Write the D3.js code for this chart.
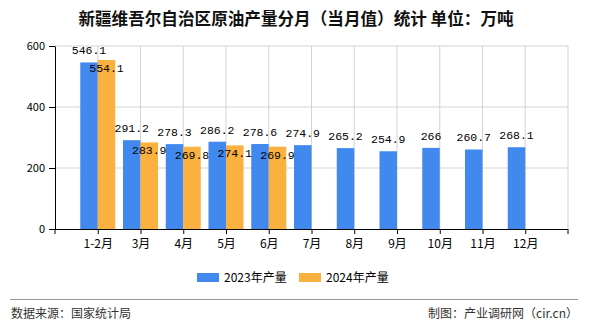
<!DOCTYPE html>
<html><head><meta charset="utf-8">
<script src="https://cdn.jsdelivr.net/npm/d3@7"></script>
<style>body{margin:0;background:#fff}svg{display:block}</style>
</head><body>
<svg id="c" width="590" height="330"></svg>
<script>
const categories = ["1-2月","3月","4月","5月","6月","7月","8月","9月","10月","11月","12月"];
const values2023 = [546.1,291.2,278.3,286.2,278.6,274.9,265.2,254.9,266,260.7,268.1];
const values2024 = [554.1,283.9,269.8,274.1,269.9];
const seriesNames = ["2023年产量","2024年产量"];
const yTicks = [0,200,400,600];
const colors = ["#4189EE","#FBB140"];

const svg = d3.select("#c");
const L = 55, R = 568, T = 46, B = 229;
const step = (R - L) / 12;
const x = d3.scalePoint().domain(categories).range([L + step, R - step]);
const y = d3.scaleLinear().domain([0, 600]).range([B, T]);
const inner = d3.scaleBand().domain(seriesNames).range([-17.5, 17.5]);

const cjk = "'Noto Sans CJK SC','Noto Sans',sans-serif";
const mono = "'Liberation Mono','DejaVu Sans Mono',monospace";

// title
svg.append("text").attr("x", 296).attr("y", 25).attr("text-anchor","middle")
  .attr("font-family", cjk).attr("font-size", 16.6).attr("font-weight","bold").attr("fill","#111")
  .text("新疆维吾尔自治区原油产量分月（当月值）统计 单位：万吨");

// grid
const g = svg.append("g");
g.selectAll("line.h").data(yTicks.filter(d=>d>0)).join("line")
  .attr("x1", L).attr("x2", R).attr("y1", d=>y(d)).attr("y2", d=>y(d))
  .attr("stroke","#d3d3d3").attr("stroke-width",1);
g.selectAll("line.v").data(categories).join("line")
  .attr("x1", d=>x(d)).attr("x2", d=>x(d)).attr("y1", T).attr("y2", B)
  .attr("stroke","#d3d3d3").attr("stroke-width",1);
g.append("line").attr("x1",R).attr("x2",R).attr("y1",T).attr("y2",B).attr("stroke","#d3d3d3");

// bars
const seriesData = [values2023, values2024];
seriesData.forEach((vals, si) => {
  const name = seriesNames[si];
  svg.append("g").selectAll("rect").data(vals).join("rect")
    .attr("x", (d,i)=>x(categories[i]) + inner(name))
    .attr("y", d=>y(d))
    .attr("width", inner.bandwidth())
    .attr("height", d=>B - y(d))
    .attr("fill", colors[si]);
});
// labels
seriesData.forEach((vals, si) => {
  const name = seriesNames[si];
  svg.append("g").selectAll("text").data(vals).join("text")
    .attr("x", (d,i)=>x(categories[i]) + inner(name) + inner.bandwidth()/2)
    .attr("y", d=> si === 0 ? y(d) - 8 : y(d) + 12)
    .attr("text-anchor","middle")
    .attr("font-family", mono).attr("font-size", 11.5).attr("fill","#000")
    .text(d=>d);
});

// axes
const yAxis = svg.append("g").attr("transform",`translate(${L},0)`)
  .call(d3.axisLeft(y).tickValues(yTicks).tickSize(6).tickSizeOuter(0).tickPadding(4));
yAxis.select(".domain").attr("stroke","#000");
yAxis.selectAll("text").attr("font-family", cjk).attr("font-size", 11).attr("fill","#000");
const xAxis = svg.append("g").attr("transform",`translate(0,${B})`)
  .call(d3.axisBottom(x).tickSize(5).tickSizeOuter(0).tickPadding(5));
xAxis.select(".domain").attr("d", `M${L},0.5H${R}`).attr("stroke","#000");
xAxis.selectAll("text").attr("font-family", cjk).attr("font-size", 12).attr("fill","#000");
[L, R].forEach(p => xAxis.append("line").attr("x1",p).attr("x2",p).attr("y1",0).attr("y2",5).attr("stroke","#000"));

// legend
const lg = svg.append("g");
const legX = [197, 299];
seriesNames.forEach((n,i)=>{
  lg.append("rect").attr("x", legX[i]).attr("y", 273).attr("width", 22).attr("height", 9).attr("fill", colors[i]);
  lg.append("text").attr("x", legX[i] + 27).attr("y", 282).attr("font-family", cjk).attr("font-size", 12)
    .attr("fill","#000").text(n);
});

// footer
svg.append("line").attr("x1",10).attr("x2",578).attr("y1",299.5).attr("y2",299.5).attr("stroke","#999");
svg.append("text").attr("x",11).attr("y",318).attr("font-family",cjk).attr("font-size",12).attr("fill","#333").text("数据来源：国家统计局");
svg.append("text").attr("x",578).attr("y",318).attr("text-anchor","end").attr("font-family",cjk).attr("font-size",12).attr("fill","#333").text("制图：产业调研网（cir.cn）");
</script>
</body></html>
